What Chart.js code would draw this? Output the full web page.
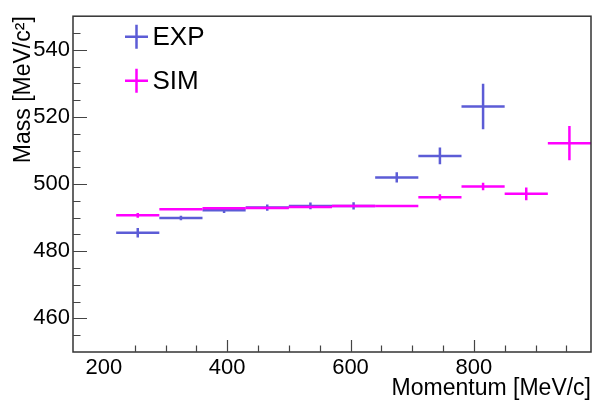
<!DOCTYPE html>
<html>
<head>
<meta charset="utf-8">
<script src="https://cdn.jsdelivr.net/npm/chart.js@4.4.1/dist/chart.umd.min.js"></script>
<style>
  html, body { margin: 0; padding: 0; background: #fff; }
  #wrap { width: 593px; height: 400px; }
</style>
</head>
<body>
<div id="wrap"><canvas id="c" width="593" height="400"></canvas></div>
<script>
// Momentum bins [MeV/c]
const binEdges = [220, 290, 360, 430, 500, 570, 640, 710, 780, 850, 920, 990];

// Reconstructed mass per momentum bin [MeV/c^2]
const expMass = [485.5, 489.9, 492.2, 493.0, 493.5, 493.5, 502.0, 508.4, 523.1];
const expErr  = [1.4, 0.7, 0.8, 0.9, 1.0, 1.1, 1.5, 2.5, 6.8];
const simMass = [490.7, 492.5, 492.8, 492.9, 493.2, 493.5, 493.5, 496.1, 499.3, 497.1, 512.2];
const simErr  = [0.7, 0.2, 0.3, 0.3, 0.3, 0.3, 0.3, 0.9, 1.1, 1.9, 5.1];

// Axis ticks
const xTicks = [200, 400, 600, 800];
const yTicks = [460, 480, 500, 520, 540];

const FONT = '"Liberation Sans", Arial, Helvetica, sans-serif';
const EXP_COLOR = 'rgba(51, 51, 204, 0.8)';
const SIM_COLOR = '#ff00ff';

function binPoints(values, errors) {
  return values.map((v, i) => ({
    x: (binEdges[i] + binEdges[i + 1]) / 2,
    y: v,
    xMin: binEdges[i],
    xMax: binEdges[i + 1],
    yErr: errors[i]
  }));
}

// Draws each point as a cross: bin width horizontally, error vertically
const errorCrosses = {
  id: 'errorCrosses',
  afterDatasetsDraw(chart) {
    const { ctx, chartArea: a, scales: { x, y } } = chart;
    ctx.save();
    ctx.beginPath();
    ctx.rect(a.left, a.top, a.right - a.left, a.bottom - a.top);
    ctx.clip();
    chart.data.datasets.forEach((ds, di) => {
      if (!chart.isDatasetVisible(di)) return;
      ctx.strokeStyle = ds.borderColor;
      ctx.lineWidth = 2.5;
      ctx.lineCap = 'butt';
      ds.data.forEach(p => {
        const px = x.getPixelForValue(p.x);
        const py = y.getPixelForValue(p.y);
        ctx.beginPath();
        ctx.moveTo(x.getPixelForValue(p.xMin), py);
        ctx.lineTo(x.getPixelForValue(p.xMax), py);
        ctx.moveTo(px, y.getPixelForValue(p.y - p.yErr));
        ctx.lineTo(px, y.getPixelForValue(p.y + p.yErr));
        ctx.stroke();
      });
    });
    ctx.restore();
  }
};

// Frame with inward-pointing major and minor ticks, plus the in-frame legend
const frameAndLegend = {
  id: 'frameAndLegend',
  afterDraw(chart) {
    const { ctx, chartArea: a, scales: { x, y } } = chart;
    ctx.save();
    ctx.strokeStyle = '#333';
    ctx.lineWidth = 1.5;
    ctx.strokeRect(a.left, a.top, a.right - a.left, a.bottom - a.top);

    ctx.lineWidth = 1.2;
    ctx.strokeStyle = '#444';
    ctx.beginPath();
    for (let v = 250; v < x.max; v += 50) {
      const px = Math.round(x.getPixelForValue(v)) + 0.5;
      const len = v % 200 === 0 ? 12 : 6.5;
      ctx.moveTo(px, a.bottom);
      ctx.lineTo(px, a.bottom - len);
    }
    for (let v = y.min + 5; v < y.max; v += 5) {
      const py = Math.round(y.getPixelForValue(v)) + 0.5;
      const len = v % 20 === 0 ? 14 : 7.5;
      ctx.moveTo(a.left, py);
      ctx.lineTo(a.left + len, py);
    }
    ctx.stroke();

    // Legend
    const rows = [36.7, 80.7];
    chart.data.datasets.forEach((ds, i) => {
      const cx = 136.5, cy = rows[i];
      ctx.strokeStyle = ds.borderColor;
      ctx.lineWidth = 2.5;
      ctx.beginPath();
      ctx.moveTo(cx - 11.5, cy);
      ctx.lineTo(cx + 11.5, cy);
      ctx.moveTo(cx, cy - 12);
      ctx.lineTo(cx, cy + 12);
      ctx.stroke();
      ctx.fillStyle = '#000';
      ctx.font = '26px ' + FONT;
      ctx.textAlign = 'left';
      ctx.textBaseline = 'middle';
      ctx.fillText(ds.label, 152.5, cy + 1);
    });
    ctx.restore();
  }
};

new Chart(document.getElementById('c'), {
  type: 'scatter',
  data: {
    datasets: [
      { label: 'EXP', data: binPoints(expMass, expErr), borderColor: EXP_COLOR, backgroundColor: EXP_COLOR, pointRadius: 0, showLine: false },
      { label: 'SIM', data: binPoints(simMass, simErr), borderColor: SIM_COLOR, backgroundColor: SIM_COLOR, pointRadius: 0, showLine: false }
    ]
  },
  options: {
    responsive: false,
    animation: false,
    devicePixelRatio: 1,
    layout: { padding: { top: 12, right: 2, left: 0, bottom: 0 } },
    plugins: { legend: { display: false }, tooltip: { enabled: false } },
    scales: {
      x: {
        type: 'linear',
        min: 150,
        max: 990,
        afterBuildTicks: s => { s.ticks = xTicks.map(v => ({ value: v })); },
        afterFit: s => { s.height = 48; },
        grid: { display: false, drawTicks: false },
        border: { display: false },
        ticks: { font: { family: FONT, size: 22 }, color: '#000', padding: 3, maxRotation: 0, autoSkip: false },
        title: { display: true, text: 'Momentum [MeV/c]', align: 'end', color: '#000', font: { family: FONT, size: 23, lineHeight: 1.0 }, padding: { top: 0, bottom: 0 } }
      },
      y: {
        type: 'linear',
        min: 450,
        max: 550,
        afterBuildTicks: s => { s.ticks = yTicks.map(v => ({ value: v })); },
        afterFit: s => { s.width = 73; },
        grid: { display: false, drawTicks: false },
        border: { display: false },
        ticks: { font: { family: FONT, size: 22 }, color: '#000', padding: 3, autoSkip: false },
        title: { display: true, text: 'Mass [MeV/c²]', align: 'end', color: '#000', font: { family: FONT, size: 23, lineHeight: 1.2 }, padding: { top: 10, bottom: 0 } }
      }
    }
  },
  plugins: [errorCrosses, frameAndLegend]
});
</script>
</body>
</html>
